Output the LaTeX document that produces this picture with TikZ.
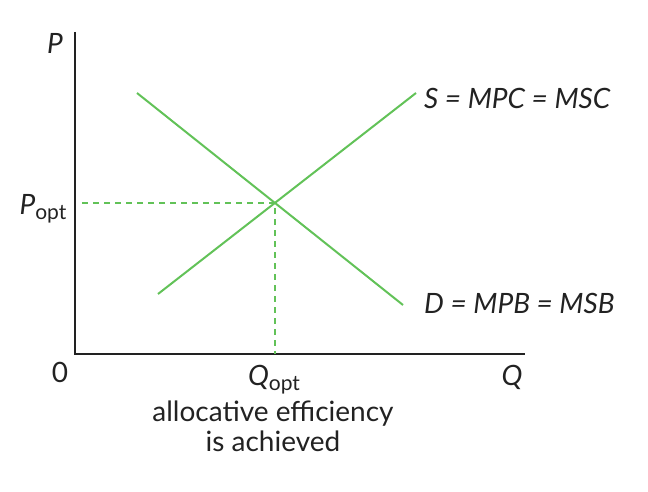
\documentclass[tikz,border=0pt]{standalone}
\usepackage{fontspec}
\setmainfont{Lato}
\usepackage{xcolor}
\usetikzlibrary{positioning}
\definecolor{curvegreen}{RGB}{98,194,88}
\definecolor{inkgray}{RGB}{34,34,34}
\newcommand{\optsub}[1]{{\itshape #1}\raisebox{-0.35ex}{\fontsize{21}{21}\selectfont opt}}

\begin{document}
\begin{tikzpicture}[x=1pt,y=-1pt,
  every node/.style={font=\fontsize{28}{30}\selectfont,text=inkgray,inner sep=0pt},
  axis/.style={draw=inkgray,line width=2.2pt},
  curve/.style={draw=curvegreen,line width=2pt},
  guide/.style={draw=curvegreen,line width=1.2pt,dash pattern=on 6pt off 5pt}
]
  \useasboundingbox (0,0) rectangle (648,492);
  % axes
  \coordinate (origin) at (75,354);
  \coordinate (ytop) at (75,32);
  \coordinate (xend) at (525,354);
  \draw[axis] (ytop) -- (origin) -- (xend);
  % supply and demand
  \coordinate (s0) at (158,294);
  \coordinate (s1) at (416,93);
  \coordinate (d0) at (137,93);
  \coordinate (d1) at (403,305);
  \draw[curve] (s0) -- (s1);
  \draw[curve] (d0) -- (d1);
  \coordinate (eq) at (275,203);
  \coordinate (pguide) at (82,203);
  \coordinate (qguide) at (275,354);
  \draw[guide] (pguide) -- (eq) -- (qguide);
  % labels
  \node (plabel) at (55,43) {\itshape P};
  \node (qlabel) at (512,377) {\itshape Q};
  \node (zero) at (60,372) {0};
  \node (popt) at (43,209) {\optsub{P}};
  \node (qopt) at (274,380) {\optsub{Q}};
  \node[align=center] (note) at (273,426) {allocative efficiency\\is achieved};
  \node[anchor=west] (slabel) at (424,98) {\itshape S = MPC = MSC};
  \node[anchor=west] (dlabel) at (424,303) {\itshape D = MPB = MSB};
\end{tikzpicture}
\end{document}
